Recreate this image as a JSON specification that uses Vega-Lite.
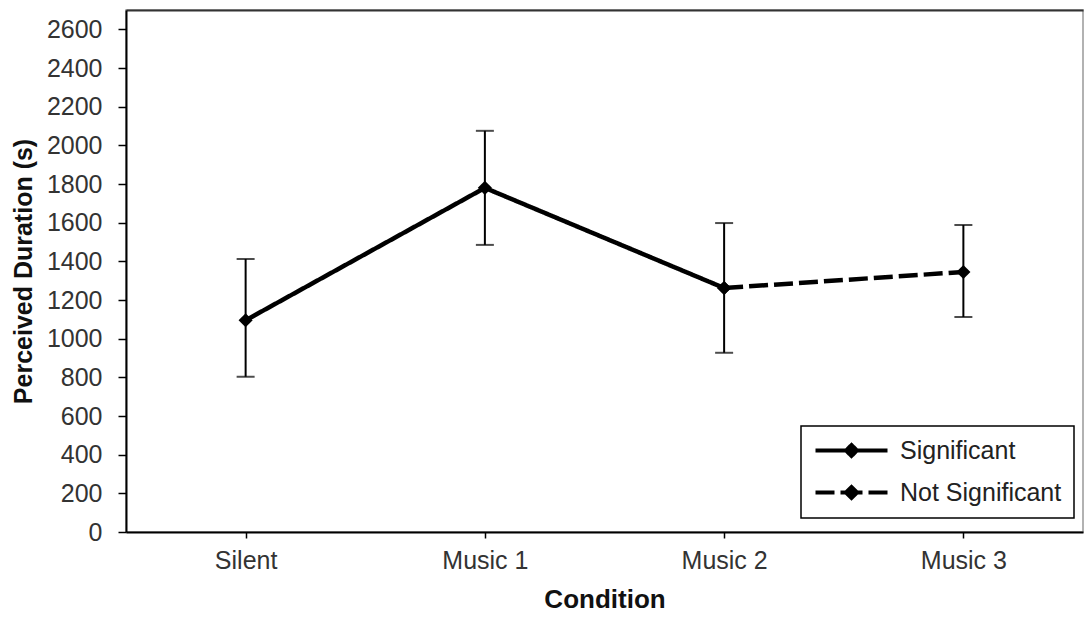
{
  "$schema": "https://vega.github.io/schema/vega-lite/v6.json",
  "width": 957,
  "height": 522,
  "autosize": {"type": "none"},
  "padding": {"left": 126, "top": 10, "right": 2, "bottom": 85},
  "background": "white",
  "config": {
    "view": {"stroke": "#999999", "strokeWidth": 1.5},
    "font": "Liberation Sans",
    "axis": {
      "labelFont": "Liberation Sans",
      "titleFont": "Liberation Sans",
      "labelFontSize": 25,
      "titleFontSize": 25,
      "labelColor": "#333333",
      "titleColor": "#111111",
      "titleFontWeight": "bold",
      "domainColor": "#000000",
      "domainWidth": 2,
      "tickColor": "#000000",
      "tickWidth": 1.5,
      "grid": false
    }
  },
  "datasets": {
    "means": [
      {"condition": "Silent", "duration": 1095, "series": "Significant"},
      {"condition": "Music 1", "duration": 1780, "series": "Significant"},
      {"condition": "Music 2", "duration": 1262, "series": "Significant"},
      {"condition": "Music 2", "duration": 1262, "series": "Not Significant"},
      {"condition": "Music 3", "duration": 1345, "series": "Not Significant"}
    ],
    "errors": [
      {"condition": "Silent", "duration": 1095, "lo": 803, "hi": 1412},
      {"condition": "Music 1", "duration": 1780, "lo": 1485, "hi": 2075},
      {"condition": "Music 2", "duration": 1262, "lo": 927, "hi": 1598},
      {"condition": "Music 3", "duration": 1345, "lo": 1112, "hi": 1588}
    ]
  },
  "layer": [
    {
      "data": {"name": "errors"},
      "mark": {"type": "rule", "color": "black", "strokeWidth": 2},
      "encoding": {
        "x": {
          "field": "condition", "type": "ordinal",
          "sort": ["Silent", "Music 1", "Music 2", "Music 3"],
          "scale": {"type": "point", "padding": 0.5},
          "axis": {"orient": "top", "labels": false, "ticks": false, "title": null, "domainColor": "#333333", "domainWidth": 2}
        },
        "y": {
          "field": "lo", "type": "quantitative",
          "scale": {"domain": [0, 2700], "nice": false, "zero": true},
          "axis": {
            "title": "Perceived Duration (s)",
            "values": [0, 200, 400, 600, 800, 1000, 1200, 1400, 1600, 1800, 2000, 2200, 2400, 2600],
            "format": "d",
            "tickSize": 8,
            "labelPadding": 16,
            "titlePadding": 10
          }
        },
        "y2": {"field": "hi"}
      }
    },
    {
      "data": {"name": "errors"},
      "mark": {"type": "tick", "color": "black", "thickness": 2, "size": 18, "orient": "horizontal"},
      "encoding": {
        "x": {"field": "condition", "type": "ordinal", "sort": ["Silent", "Music 1", "Music 2", "Music 3"], "axis": null},
        "y": {"field": "lo", "type": "quantitative"}
      }
    },
    {
      "data": {"name": "errors"},
      "mark": {"type": "tick", "color": "black", "thickness": 2, "size": 18, "orient": "horizontal"},
      "encoding": {
        "x": {"field": "condition", "type": "ordinal", "sort": ["Silent", "Music 1", "Music 2", "Music 3"], "axis": null},
        "y": {"field": "hi", "type": "quantitative"}
      }
    },
    {
      "data": {"name": "means"},
      "mark": {"type": "line", "color": "black", "strokeWidth": 4.5},
      "encoding": {
        "x": {
          "field": "condition", "type": "ordinal",
          "sort": ["Silent", "Music 1", "Music 2", "Music 3"],
          "axis": {"orient": "bottom", "title": "Condition", "labelAngle": 0, "tickSize": 6, "labelPadding": 10, "titlePadding": 13, "titleFontSize": 26}
        },
        "y": {
          "field": "duration", "type": "quantitative",
          "axis": {
            "title": "Perceived Duration (s)",
            "values": [0, 200, 400, 600, 800, 1000, 1200, 1400, 1600, 1800, 2000, 2200, 2400, 2600],
            "format": "d",
            "tickSize": 8,
            "labelPadding": 16,
            "titlePadding": 10
          }
        },
        "strokeDash": {
          "field": "series", "type": "nominal",
          "scale": {"domain": ["Significant", "Not Significant"], "range": [[1, 0], [19, 6]]},
          "legend": {
            "title": null,
            "orient": "none",
            "legendX": 675,
            "legendY": 416,
            "strokeColor": "black",
            "fillColor": "white",
            "padding": 12,
            "symbolType": "M-1,0H2.05M6.2,0H3.15M2.05,0L2.6,-0.55L3.15,0M3.15,0L2.6,0.55L2.05,0",
            "symbolSize": 400,
            "symbolStrokeWidth": 4,
            "symbolStrokeColor": "black",
            "symbolFillColor": "black",
            "labelFont": "Liberation Sans",
            "labelFontSize": 25,
            "labelColor": "#222222",
            "labelOffset": 62,
            "labelLimit": 300,
            "rowPadding": 15,
            "encode": {
              "legend": {
                "update": {"strokeWidth": {"value": 1.5}}
              },
              "symbols": {
                "update": {
                  "strokeDash": {"signal": "datum.value === 'Not Significant' ? [22, 40] : [1, 0]"},
                  "fill": {"value": "black"},
                  "stroke": {"value": "black"},
                  "opacity": {"value": 1}
                }
              }
            }
          }
        }
      }
    },
    {
      "data": {"name": "means"},
      "mark": {"type": "point", "shape": "diamond", "filled": true, "color": "black", "size": 200, "opacity": 1},
      "encoding": {
        "x": {"field": "condition", "type": "ordinal", "sort": ["Silent", "Music 1", "Music 2", "Music 3"], "axis": null},
        "y": {"field": "duration", "type": "quantitative"}
      }
    }
  ]
}
